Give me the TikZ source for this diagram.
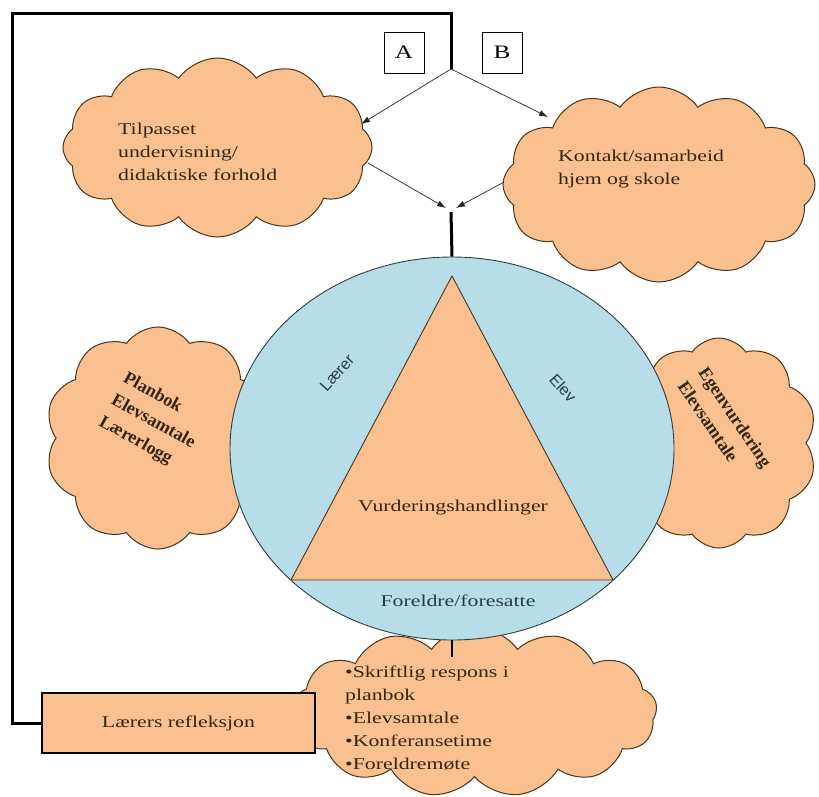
\documentclass[tikz,border=0pt]{standalone}
\usepackage{fontspec}
\setmainfont{Liberation Serif}[FakeStretch=1.32]
\newfontfamily\rotserif{Liberation Serif}
\newfontfamily\lsans{Liberation Sans}
\usetikzlibrary{shapes.symbols,shapes.geometric,arrows.meta}
\definecolor{orng}{RGB}{250,192,143}
\definecolor{lblue}{RGB}{183,221,232}
\definecolor{cloudline}{RGB}{74,52,26}
\definecolor{browntext}{RGB}{52,38,18}
\definecolor{bluetext}{RGB}{40,60,72}
\definecolor{ellline}{RGB}{50,62,66}
\tikzset{
  cloudbox/.style={cloud, cloud puffs=12, cloud puff arc=110, cloud ignores aspect,
    draw=cloudline, fill=orng, line width=1pt, inner sep=0pt},
  txt/.style={text=browntext, font=\fontsize{16.5}{23}\selectfont, align=left, inner sep=0pt},
  rtxt/.style={text=browntext, font=\rotserif\bfseries\fontsize{18}{25}\selectfont, align=left, inner sep=0pt},
  sidetxt/.style={text=bluetext, font=\lsans\fontsize{16}{18}\selectfont, inner sep=0pt},
  letterbox/.style={draw=black, fill=white, line width=0.6pt, minimum width=40pt,
    minimum height=41pt, inner sep=0pt, font=\fontsize{19}{22}\selectfont},
  thinarrow/.style={draw=black!85, line width=0.7pt, -{Latex[length=9pt,width=6pt]}},
  thickline/.style={draw=black, line width=3pt},
}
\begin{document}
\begin{tikzpicture}[x=1pt,y=-1pt]
\useasboundingbox (0,0) rectangle (819,797);
\fill[white] (0,0) rectangle (819,797);

% clouds behind the ellipse
\node[cloudbox, minimum width=309pt, minimum height=179pt] (tl) at (217.5,147.5) {};
\node[cloudbox, minimum width=312pt, minimum height=195pt] (tr) at (659,184.5) {};
\node[cloudbox, cloud puffs=10, minimum width=226pt, minimum height=222pt] (ml) at (158,438) {};
\node[cloudbox, cloud puffs=10, minimum width=196pt, minimum height=210pt] (mr) at (719,443) {};
\node[cloudbox, cloud puffs=13, minimum width=365pt, minimum height=170pt] (bc) at (474.5,712) {};

% ellipse and triangle
\node[ellipse, draw=ellline, fill=lblue, line width=0.9pt, minimum width=444pt,
  minimum height=383pt, inner sep=0pt] (ell) at (452,448.5) {};
\coordinate (tA) at (452,276);
\coordinate (tB) at (291,580);
\coordinate (tC) at (613,580);
\draw[draw=cloudline, fill=orng, line width=0.9pt, line join=round] (tA) -- (tB) -- (tC) -- cycle;

% texts
\node[txt] (tltext) at (118,152) [anchor=west] {Tilpasset\\undervisning/\\didaktiske forhold};
\node[txt] (trtext) at (558,169) [anchor=west] {Kontakt/samarbeid\\hjem og skole};
\node[rtxt, rotate=-29] (mltext) at (153,422) {Planbok\\Elevsamtale\\Lærerlogg};
\node[rtxt, rotate=-56] (mrtext) at (725,424) {Egenvurdering\\Elevsamtale};
\node[sidetxt, rotate=48] (laerer) at (337,373) {Lærer};
\node[sidetxt, rotate=-48] (elev) at (563,388) {Elev};
\node[txt] (vurd) at (453,508) {Vurderingshandlinger};
\node[txt, text=bluetext] (foreldre) at (458,601) {Foreldre/foresatte};
\node[txt] (bctext) at (345,718) [anchor=west] {•Skriftlig respons i\\planbok\\•Elevsamtale\\•Konferansetime\\•Foreldremøte};

% reflection box
\node[draw=black, fill=orng, line width=1.2pt, minimum width=273pt, minimum height=60pt,
  inner sep=0pt, txt, align=center] (refl) at (178.5,723) {Lærers refleksjon};

% letter boxes
\node[letterbox] (A) at (404,52.5) {A};
\node[letterbox] (B) at (502,52.5) {B};

% connectors
\coordinate (P) at (451,69);
\coordinate (fb) at (12,14);
\coordinate (M) at (451,212);
\coordinate (tlIn) at (361,124);
\coordinate (trIn) at (548,117);
\coordinate (tlOut) at (368,163);
\coordinate (trOut) at (504,182);
\coordinate (Ml) at (446,208);
\coordinate (Mr) at (456,208);
\coordinate (stub) at (452,657);

\draw[thickline, line join=miter] (refl.west) -| (fb) -| (P);
\draw[thinarrow] (P) -- (tlIn);
\draw[thinarrow] (P) -- (trIn);
\draw[thinarrow] (tlOut) -- (Ml);
\draw[thinarrow] (trOut) -- (Mr);
\draw[thickline] (M) -- (ell.north);
\draw[draw=black, line width=2.2pt] (ell.south) -- (stub);
\end{tikzpicture}
\end{document}
